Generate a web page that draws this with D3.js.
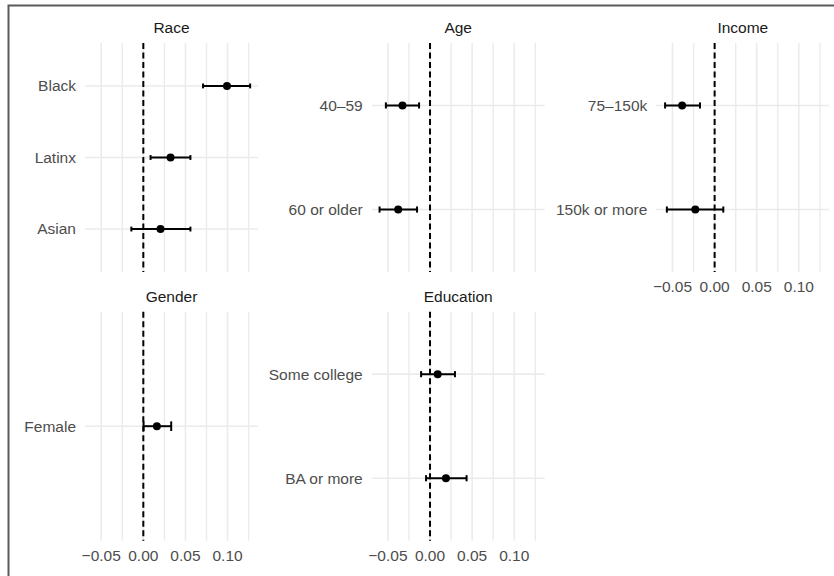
<!DOCTYPE html>
<html>
<head>
<meta charset="utf-8">
<script src="https://cdn.jsdelivr.net/npm/d3@7"></script>
<style>
  body { margin: 0; background: #fff; }
  text { font-family: "Liberation Sans", Arial, Helvetica, sans-serif; }
</style>
</head>
<body>
<div id="chart"></div>
<script>
const svgWidth = 834
const svgHeight = 576

// data
const facets = ["Race", "Age", "Income", "Gender", "Education"]
const facet = ["Race", "Race", "Race", "Age", "Age", "Income", "Income", "Gender", "Education", "Education"]
const term = ["Black", "Latinx", "Asian", "40\u201359", "60 or older", "75\u2013150k", "150k or more", "Female", "Some college", "BA or more"]
const estimate = [0.0993, 0.0323, 0.0204, -0.0327, -0.0378, -0.0386, -0.0229, 0.0161, 0.0091, 0.0189]
const lower = [0.0709, 0.0086, -0.0142, -0.0524, -0.0599, -0.0588, -0.0567, 0.0003, -0.0106, -0.0047]
const upper = [0.1268, 0.0559, 0.0559, -0.0130, -0.0154, -0.0174, 0.0103, 0.0331, 0.0296, 0.0434]
const xTicks = [-0.05, 0, 0.05, 0.10]
const xMinor = [-0.025, 0.025, 0.075, 0.125]

// panel layout (facet_wrap, 3 columns)
const colLeft = [85, 371.7, 656.3]
const rowTop = [43, 311.7]
const panelW = 173
const panelH = 229
const fontSize = "15.5px"

let rows = term.map((t, i) => ({
  facet: facet[i], term: t, est: estimate[i], lo: lower[i], hi: upper[i]
}))

let svg = d3
  .select("#chart")
  .append("svg")
  .attr("width", svgWidth)
  .attr("height", svgHeight)

// outer border (only top and left edges fall inside the picture)
svg.append("rect")
  .attr("x", 8.5)
  .attr("y", 5.5)
  .attr("width", 1000)
  .attr("height", 1000)
  .attr("fill", "none")
  .attr("stroke", "#5a5a5a")
  .attr("stroke-width", 2)

// shared x scale with 5% expansion like ggplot
let xMin = d3.min(lower), xMax = d3.max(upper)
let pad = (xMax - xMin) * 0.05
let xLinearScale = d3.scaleLinear().domain([xMin - pad, xMax + pad]).range([0, panelW])

const fmt = v => d3.format(".2f")(v).replace("-", "\u2212")

facets.forEach((name, k) => {
  let col = k % 3
  let row = Math.floor(k / 3)
  let data = rows.filter(d => d.facet === name)
  let g = svg.append("g")
    .attr("transform", `translate(${colLeft[col]}, ${rowTop[row]})`)

  let yScale = d3.scalePoint()
    .domain(data.map(d => d.term))
    .range([0, panelH])
    .padding(0.6)

  // grid
  g.selectAll(".minor")
    .data(xMinor.filter(v => v >= xLinearScale.domain()[0] && v <= xLinearScale.domain()[1]))
    .enter().append("line")
    .attr("x1", d => xLinearScale(d)).attr("x2", d => xLinearScale(d))
    .attr("y1", 0).attr("y2", panelH)
    .attr("stroke", "#ebebeb").attr("stroke-width", 1.4)

  g.selectAll(".major")
    .data(xTicks)
    .enter().append("line")
    .attr("x1", d => xLinearScale(d)).attr("x2", d => xLinearScale(d))
    .attr("y1", 0).attr("y2", panelH)
    .attr("stroke", "#ebebeb").attr("stroke-width", 1.6)

  g.selectAll(".hgrid")
    .data(data)
    .enter().append("line")
    .attr("x1", 0).attr("x2", panelW)
    .attr("y1", d => yScale(d.term)).attr("y2", d => yScale(d.term))
    .attr("stroke", "#ebebeb").attr("stroke-width", 1.6)

  // zero line
  g.append("line")
    .attr("x1", xLinearScale(0)).attr("x2", xLinearScale(0))
    .attr("y1", 0).attr("y2", panelH)
    .attr("stroke", "#000").attr("stroke-width", 2)
    .attr("stroke-dasharray", "6,3.5")

  // strip title
  g.append("text")
    .attr("x", panelW / 2)
    .attr("y", -15)
    .attr("dy", "0.35em")
    .attr("text-anchor", "middle")
    .attr("fill", "#1a1a1a")
    .style("font-size", fontSize)
    .text(name)

  // y labels
  g.selectAll(".ylab")
    .data(data)
    .enter().append("text")
    .attr("x", -9)
    .attr("y", d => yScale(d.term))
    .attr("dy", "0.35em")
    .attr("text-anchor", "end")
    .attr("fill", "#4d4d4d")
    .style("font-size", fontSize)
    .text(d => d.term)

  // error bars
  let cap = yScale.step() * 0.02 + 1
  let bars = g.selectAll(".bar").data(data).enter().append("g")
  bars.append("line")
    .attr("x1", d => xLinearScale(d.lo)).attr("x2", d => xLinearScale(d.hi))
    .attr("y1", d => yScale(d.term)).attr("y2", d => yScale(d.term))
    .attr("stroke", "#000").attr("stroke-width", 2)
  ;["lo", "hi"].forEach(key => {
    bars.append("line")
      .attr("x1", d => xLinearScale(d[key])).attr("x2", d => xLinearScale(d[key]))
      .attr("y1", d => yScale(d.term) - cap).attr("y2", d => yScale(d.term) + cap)
      .attr("stroke", "#000").attr("stroke-width", 2)
  })
  bars.append("circle")
    .attr("cx", d => xLinearScale(d.est))
    .attr("cy", d => yScale(d.term))
    .attr("r", 4)
    .attr("fill", "#000")

  // x axis labels only on bottom panel of each column
  let bottomOfColumn = (k + 3 >= facets.length)
  if (bottomOfColumn) {
    g.selectAll(".xlab")
      .data(xTicks)
      .enter().append("text")
      .attr("x", d => xLinearScale(d))
      .attr("y", panelH + 15)
      .attr("dy", "0.35em")
      .attr("text-anchor", "middle")
      .attr("fill", "#4d4d4d")
      .style("font-size", fontSize)
      .text(d => fmt(d))
  }
})
</script>
</body>
</html>
